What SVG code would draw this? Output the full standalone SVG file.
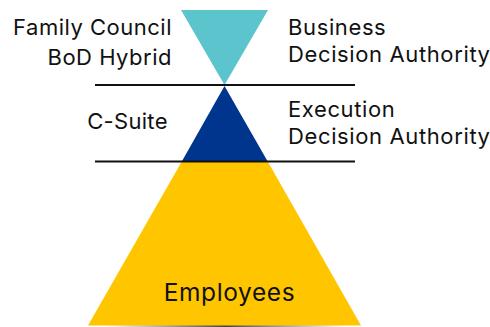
<svg xmlns="http://www.w3.org/2000/svg" width="490" height="327" viewBox="0 0 490 327">
<style>
text{font-family:"Inter","Liberation Sans",sans-serif;font-size:22px;letter-spacing:.5px;fill:#111}
.e{text-anchor:end}
.r{letter-spacing:.62px}
.l{stroke:#111;stroke-width:2;fill:none}
</style>
<defs>
<linearGradient id="sh" x1="0" x2="1" y1="0" y2="0">
<stop offset="0" stop-color="#555" stop-opacity="0"/>
<stop offset="0.5" stop-color="#444"/>
<stop offset="1" stop-color="#555" stop-opacity="0"/>
</linearGradient>
</defs>
<rect width="490" height="327" fill="#fff"/>
<g id="employees">
<rect x="105" y="325" width="240" height="2" fill="url(#sh)"/>
<polygon points="181.5,162 268,162 361,325.500 88,325.500" fill="#ffc600"/>
<text x="229.500" y="301" text-anchor="middle" style="font-size:24.500px;letter-spacing:.6px">Employees</text>
</g>
<g id="c-suite">
<polygon points="224.500,86 268,162 181.500,162" fill="#00358e"/>
<text x="127.500" y="129" text-anchor="middle" style="letter-spacing:.3px">C-Suite</text>
<text class="r" x="288" y="117">Execution</text>
<text class="r" x="288" y="143.500">Decision Authority</text>
</g>
<g id="family-council">
<polygon points="181,10 268,10 224.500,85" fill="#5bc4cd"/>
<text class="e" x="172" y="34.500">Family Council</text>
<text class="e" x="172" y="64.500">BoD Hybrid</text>
<text class="r" x="288" y="34.500">Business</text>
<text class="r" x="288" y="62">Decision Authority</text>
</g>
<g id="connectors">
<line class="l" x1="95" y1="85" x2="355" y2="85"/>
<line class="l" x1="95" y1="161.500" x2="355" y2="161.500"/>
</g>
</svg>
